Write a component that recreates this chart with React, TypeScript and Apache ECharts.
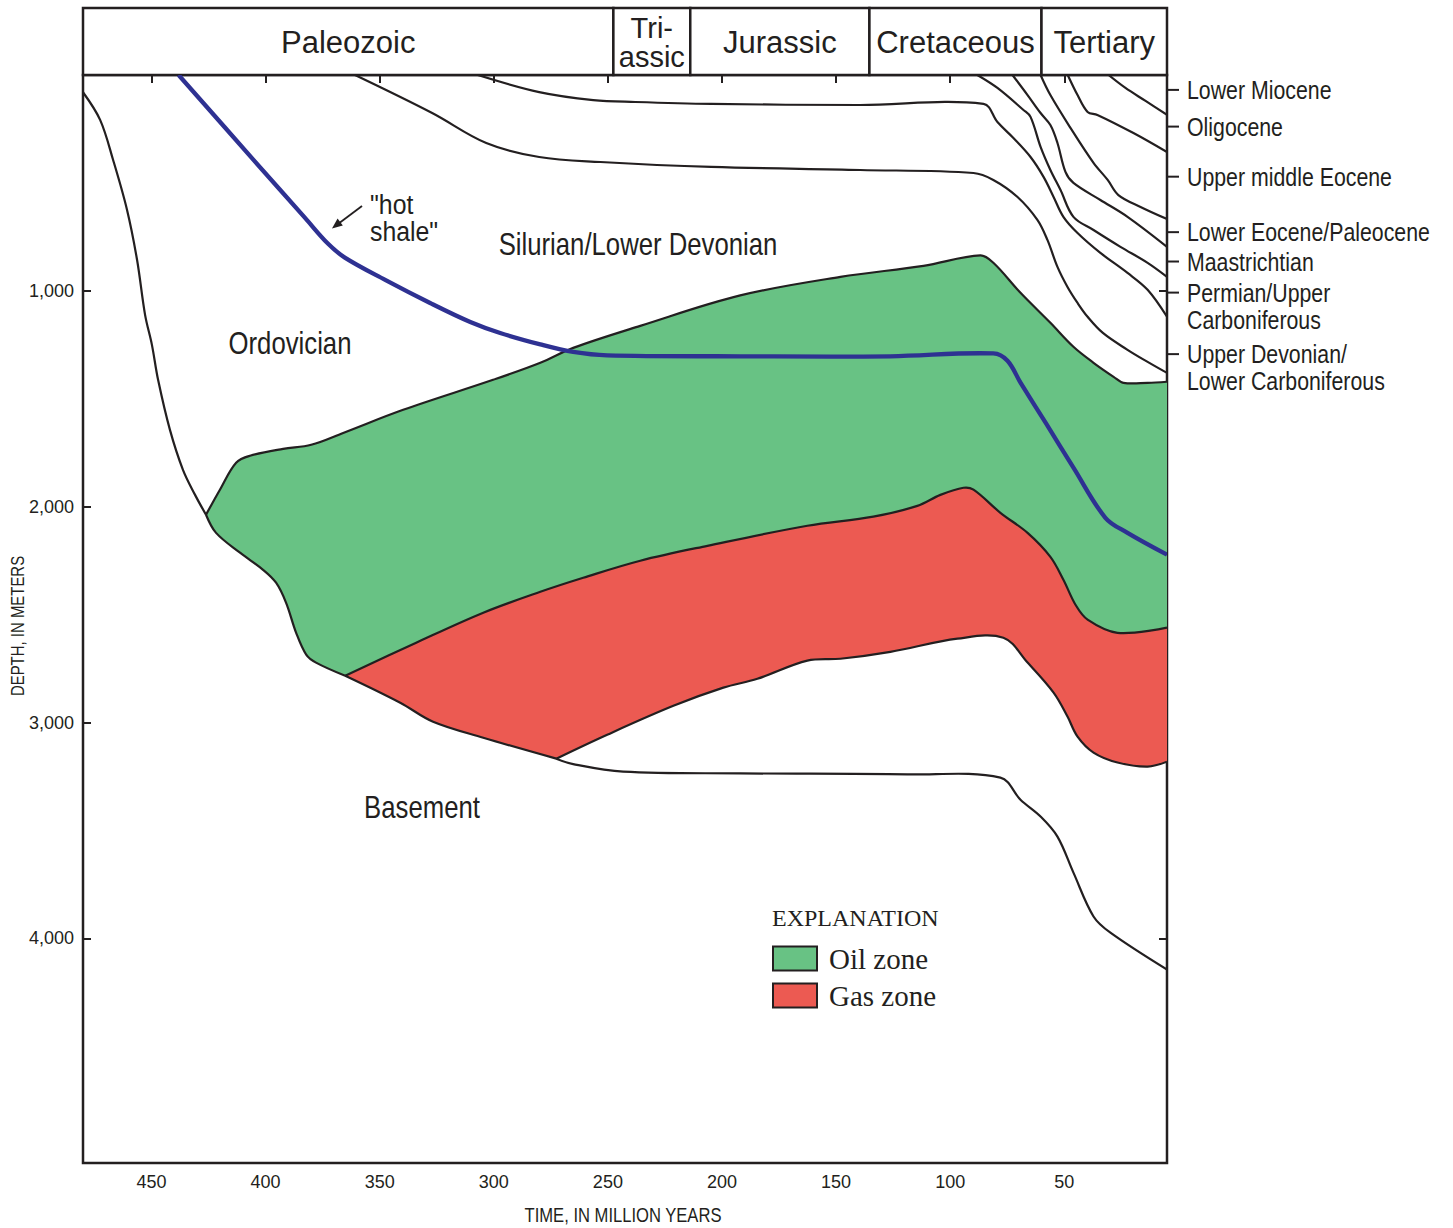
import React, { useEffect, useRef } from 'react';
import * as echarts from 'echarts';

// ---------- axis ranges & ticks ----------
const TIME_MAX = 480;
const TIME_MIN = 5;
const DEPTH_MIN = 0;
const DEPTH_MAX = 5040;
const timeTicks = [450, 400, 350, 300, 250, 200, 150, 100, 50];
const depthTicks = [1000, 2000, 3000, 4000];

// ---------- geologic periods (top band) ----------
const periodNames = ['Paleozoic', 'Tri-\nassic', 'Jurassic', 'Cretaceous', 'Tertiary'];
const periodStart = [480, 247.6, 213.9, 135.4, 60];
const periodEnd = [247.6, 213.9, 135.4, 60, 5];

// ---------- right-hand unit labels ----------
const horizonNames = [
  'Lower Miocene',
  'Oligocene',
  'Upper middle Eocene',
  'Lower Eocene/Paleocene',
  'Maastrichtian',
  'Permian/Upper\nCarboniferous',
  'Upper Devonian/\nLower Carboniferous',
];
const horizonDepths = [69, 239, 471, 728, 864, 1008, 1293];

// ---------- curves: [time Ma, depth m] ----------
const leftLimb = [
  [480, 80], [472.5, 208], [466.8, 394], [460.7, 625], [456.3, 857], [452.8, 1111],
  [449.8, 1250], [447.1, 1412], [441.9, 1644], [436.2, 1829], [430.9, 1945], [426.1, 2037],
];
const oilBase = [
  [426.1, 2037], [421.7, 2121], [411.2, 2213], [401.1, 2292], [395.4, 2352], [391, 2445],
  [386.6, 2584], [382.2, 2685], [377.9, 2722], [365.1, 2783],
];
const gasBaseLeft = [
  [365.1, 2783], [341, 2908], [326.6, 2996], [304.6, 3070], [272.6, 3167],
];
const basement = [
  [272.6, 3167], [265.2, 3192], [243.3, 3227], [192, 3235], [118.8, 3240], [78, 3255],
  [69.2, 3357], [60.4, 3435], [53, 3528], [46, 3695], [37.2, 3898], [29.8, 3973], [5, 4144],
];
const oilTop = [
  [426.1, 2037], [420, 1921], [412.9, 1796], [406.8, 1764], [392.3, 1732], [380, 1713],
  [366, 1658], [339.7, 1551], [300.3, 1412], [279.6, 1333], [265.2, 1264], [235.8, 1162],
  [192, 1021], [148.1, 935], [111.7, 884], [86.8, 836], [81.1, 870], [69.2, 1009],
  [56.1, 1148], [46, 1259], [37.2, 1333], [28.4, 1398], [24.1, 1426], [13.5, 1426], [5, 1421],
];
const oilGasContact = [
  [365.1, 2783], [334, 2630], [304.6, 2491], [279.6, 2394], [260.8, 2329], [235.8, 2250],
  [206.4, 2181], [162.6, 2088], [133.7, 2046], [114.4, 1996], [104.3, 1945], [94.2, 1912],
  [89.8, 1921], [78, 2028], [66.1, 2121], [56.1, 2232], [50.4, 2338], [45.1, 2454],
  [39.8, 2523], [26.7, 2584], [5, 2560],
];
const gasBase = [
  [272.6, 3167], [250.3, 3056], [221.3, 2922], [199.4, 2838], [184.5, 2797], [162.6, 2713],
  [148.1, 2704], [126.2, 2672], [96.8, 2611], [76.7, 2607], [66.1, 2722], [54.7, 2861],
  [48.6, 2972], [44.2, 3065], [37.2, 3139], [26.7, 3185], [13.5, 3204], [5, 3181],
];
const hotShale = [
  [438.1, 0], [405.2, 394], [382.7, 662], [372.6, 782], [365.1, 847], [347.6, 949],
  [327.9, 1056], [310.3, 1144], [297.2, 1195], [279.6, 1248], [265.2, 1283], [250.3, 1299],
  [192, 1303], [126.2, 1303], [81.1, 1290], [74.9, 1324], [69.2, 1425], [58, 1614],
  [46, 1819], [32, 2051], [22.3, 2121], [5, 2222],
];
const baseLowerMiocene = [[30.6, 0], [23.2, 60], [14.4, 120], [5, 185]];
const baseOligocene = [[48.5, 0], [44.2, 93], [39.8, 171], [35.5, 185], [19.7, 269], [5, 357]];
const baseUpperMiddleEocene = [
  [60.4, 0], [56.1, 93], [47.3, 245], [37.2, 407], [31, 486], [26.3, 556], [16.6, 611], [5, 667],
];
const baseLowerEocene = [
  [72.7, 0], [66.1, 93], [60.4, 176], [56.1, 232], [53, 315], [49.5, 449], [46, 500],
  [34.2, 579], [22.3, 657], [5, 796],
];
const baseMaastrichtian = [
  [88.1, 0], [79.3, 60], [67.9, 162], [64.8, 194], [60.4, 333], [56.1, 440], [51.7, 532],
  [46, 657], [37.2, 718], [25.4, 796], [13.5, 870], [5, 935],
];
const basePermian = [
  [307, 0], [280.1, 79], [256.4, 116], [238, 125], [204.7, 134], [139.4, 139], [85.4, 134],
  [79.3, 218], [72.3, 292], [64.8, 380], [59.1, 472], [54.7, 565], [50.4, 657], [44.2, 732],
  [34.2, 824], [22.3, 917], [13.5, 995], [5, 1120],
];
const baseUpperDevonian = [
  [360.8, 0], [327, 176], [303.3, 315], [280.1, 380], [253.3, 403], [204.7, 426],
  [139.4, 440], [89.8, 454], [81.1, 486], [70.5, 565], [61.8, 671], [57.4, 764], [53, 889],
  [48.6, 982], [44.2, 1056], [39.8, 1120], [33.1, 1195], [22.3, 1273], [13.5, 1329], [5, 1380],
];

// ---------- styling ----------
const INK = '#231f20';
const GREEN = '#68c284';
const RED = '#ec5a52';
const BLUE = '#2e3192';
const SANS = "'Liberation Sans', Arial, sans-serif";
const SERIF = "'Liberation Serif', 'Times New Roman', serif";
const SMOOTH = 0.35;
const NARROW_SCALE = 0.83;

const rev = (a: number[][]) => a.slice().reverse();
const last = (a: number[][]) => a[a.length - 1];
// polygons: segment ends are repeated so corners stay sharp under smoothing
const oilPolygon = [
  ...oilTop, last(oilTop), last(oilGasContact), ...rev(oilGasContact), ...rev(oilBase),
];
const gasPolygon = [
  ...oilGasContact, last(oilGasContact), last(gasBase), ...rev(gasBase), ...rev(gasBaseLeft),
];

function zoneSeries(name: string, pts: number[][], color: string) {
  return {
    type: 'custom',
    name,
    coordinateSystem: 'cartesian2d',
    xAxisIndex: 0,
    yAxisIndex: 0,
    z: 1,
    silent: true,
    clip: true,
    itemStyle: { color, borderColor: INK, borderWidth: 2 },
    data: pts,
    renderItem: (params: any, api: any) => {
      if (params.dataIndex !== 0) return null;
      return {
        type: 'polygon',
        shape: { points: pts.map((p) => api.coord(p)), smooth: SMOOTH },
        style: { fill: color, stroke: 'none' },
      };
    },
  };
}

function curveSeries(name: string, pts: number[][], color = INK, width = 2.2, z = 3) {
  return {
    type: 'custom',
    name,
    coordinateSystem: 'cartesian2d',
    xAxisIndex: 0,
    yAxisIndex: 0,
    z,
    silent: true,
    clip: true,
    data: pts,
    renderItem: (params: any, api: any) => {
      if (params.dataIndex !== 0) return null;
      return {
        type: 'polyline',
        shape: { points: pts.map((p) => api.coord(p)), smooth: SMOOTH },
        style: { fill: 'none', stroke: color, lineWidth: width, lineJoin: 'round', lineCap: 'butt' },
      };
    },
  };
}

function narrowText(text: string, x: number, y: number, size: number, align = 'center', extra: any = {}) {
  return {
    type: 'text',
    x,
    y,
    scaleX: NARROW_SCALE,
    ...extra,
    style: { text, fontFamily: SANS, fontSize: size, fill: INK, align, verticalAlign: 'middle', ...(extra.style || {}) },
  };
}

function buildOption() {
  return {
    animation: false,
    backgroundColor: '#ffffff',
    grid: [
      {
        left: 83, right: 286, top: 75, bottom: 65, show: true, borderColor: INK, borderWidth: 2.5,
        backgroundColor: 'transparent', containLabel: false, outerBoundsMode: 'none',
      },
      { left: 83, right: 286, top: 8, height: 67, show: false, containLabel: false, outerBoundsMode: 'none' },
    ],
    xAxis: [
      {
        type: 'value', gridIndex: 0, position: 'bottom', min: TIME_MIN, max: TIME_MAX, inverse: true,
        splitLine: { show: false },
        axisLine: { show: false },
        axisTick: { show: true, inside: true, length: 8, lineStyle: { color: INK, width: 2 }, customValues: timeTicks },
        axisLabel: { show: true, margin: 10, fontFamily: SANS, fontSize: 18, color: INK, customValues: timeTicks },
      },
      {
        type: 'value', gridIndex: 0, position: 'top', min: TIME_MIN, max: TIME_MAX, inverse: true,
        splitLine: { show: false },
        axisLine: { show: false },
        axisTick: { show: true, inside: true, length: 8, lineStyle: { color: INK, width: 2 }, customValues: timeTicks },
        axisLabel: { show: false, customValues: timeTicks },
      },
      { type: 'value', gridIndex: 1, min: TIME_MIN, max: TIME_MAX, inverse: true, show: false },
    ],
    yAxis: [
      {
        type: 'value', gridIndex: 0, position: 'left', min: DEPTH_MIN, max: DEPTH_MAX, inverse: true,
        splitLine: { show: false },
        axisLine: { show: false },
        axisTick: { show: true, inside: true, length: 8, lineStyle: { color: INK, width: 2 }, customValues: depthTicks },
        axisLabel: {
          show: true, margin: 9, fontFamily: SANS, fontSize: 18, color: INK, customValues: depthTicks,
          formatter: (v: number) => v.toLocaleString('en-US'),
        },
      },
      {
        type: 'value', gridIndex: 0, position: 'right', min: DEPTH_MIN, max: DEPTH_MAX, inverse: true,
        splitLine: { show: false },
        axisLine: { show: false },
        axisTick: { show: true, inside: true, length: 8, lineStyle: { color: INK, width: 2 }, customValues: depthTicks },
        axisLabel: { show: false, customValues: depthTicks },
      },
      { type: 'value', gridIndex: 1, min: 0, max: 1, show: false },
    ],
    legend: {
      show: true,
      orient: 'vertical',
      left: 772,
      top: 944,
      padding: 0,
      itemWidth: 44,
      itemHeight: 24,
      itemGap: 8,
      selectedMode: false,
      icon: 'rect',
      itemStyle: { borderColor: INK, borderWidth: 2 },
      textStyle: { fontFamily: SERIF, fontSize: 29, color: INK, padding: [0, 0, 0, 7] },
      data: [
        { name: 'Oil zone', itemStyle: { color: GREEN, borderColor: INK, borderWidth: 2 } },
        { name: 'Gas zone', itemStyle: { color: RED, borderColor: INK, borderWidth: 2 } },
      ],
    },
    graphic: [
      { type: 'text', left: 772, top: 906, style: { text: 'EXPLANATION', fontFamily: SERIF, fontSize: 24, fill: INK } },
      narrowText('TIME, IN MILLION YEARS', 623, 1215, 20),
      narrowText('DEPTH, IN METERS', 18, 626, 18, 'center', { rotation: Math.PI / 2 }),
      narrowText('Silurian/Lower Devonian', 638, 244, 31),
      narrowText('Ordovician', 290, 343, 31),
      narrowText('Basement', 422, 807, 31),
      {
        type: 'text', x: 370, y: 191, scaleX: 0.92,
        style: { text: '"hot\nshale"', fontFamily: SANS, fontSize: 27, lineHeight: 27, fill: INK, align: 'left', verticalAlign: 'top' },
      },
      { type: 'line', shape: { x1: 362, y1: 206, x2: 338, y2: 224 }, style: { stroke: INK, lineWidth: 1.8 } },
      { type: 'polygon', shape: { points: [[332, 228.5], [342.8, 225.5], [337.6, 218.6]] }, style: { fill: INK } },
    ],
    series: [
      zoneSeries('Oil zone', oilPolygon, GREEN),
      zoneSeries('Gas zone', gasPolygon, RED),
      curveSeries('leftLimb', leftLimb),
      curveSeries('oilBase', oilBase),
      curveSeries('gasBaseLeft', gasBaseLeft),
      curveSeries('basement', basement),
      curveSeries('oilTop', oilTop),
      curveSeries('oilGas', oilGasContact),
      curveSeries('gasBase', gasBase),
      curveSeries('h1', baseLowerMiocene),
      curveSeries('h2', baseOligocene),
      curveSeries('h3', baseUpperMiddleEocene),
      curveSeries('h4', baseLowerEocene),
      curveSeries('h5', baseMaastrichtian),
      curveSeries('h6', basePermian),
      curveSeries('h7', baseUpperDevonian),
      curveSeries('hot shale', hotShale, BLUE, 4.3, 4),
      {
        type: 'custom',
        name: 'periods',
        coordinateSystem: 'cartesian2d',
        xAxisIndex: 2,
        yAxisIndex: 2,
        silent: true,
        data: periodNames.map((_, i) => [periodStart[i], periodEnd[i]]),
        encode: { x: [0, 1] },
        renderItem: (params: any, api: any) => {
          const i = params.dataIndex;
          const p0 = api.coord([periodStart[i], 1]);
          const p1 = api.coord([periodEnd[i], 0]);
          const twoLine = periodNames[i].indexOf('\n') >= 0;
          return {
            type: 'group',
            children: [
              {
                type: 'rect',
                shape: { x: p0[0], y: p0[1], width: p1[0] - p0[0], height: p1[1] - p0[1] },
                style: { fill: '#ffffff', stroke: INK, lineWidth: 2.5 },
              },
              {
                type: 'text',
                x: (p0[0] + p1[0]) / 2,
                y: (p0[1] + p1[1]) / 2 + 1,
                style: {
                  text: periodNames[i], fontFamily: SANS, fontSize: twoLine ? 29 : 31, lineHeight: 29,
                  fill: INK, align: 'center', verticalAlign: 'middle',
                },
              },
            ],
          };
        },
      },
      {
        type: 'custom',
        name: 'units',
        coordinateSystem: 'cartesian2d',
        xAxisIndex: 0,
        yAxisIndex: 0,
        silent: true,
        clip: false,
        data: horizonDepths.map((d) => [TIME_MIN, d]),
        renderItem: (params: any, api: any) => {
          const p = api.coord([api.value(0), api.value(1)]);
          return {
            type: 'group',
            children: [
              { type: 'line', shape: { x1: p[0], y1: p[1], x2: p[0] + 12, y2: p[1] }, style: { stroke: INK, lineWidth: 2 } },
              {
                type: 'text', x: p[0] + 20, y: p[1] - 13.5, scaleX: 0.82,
                style: {
                  text: horizonNames[params.dataIndex], fontFamily: SANS, fontSize: 26, lineHeight: 27,
                  fill: INK, align: 'left', verticalAlign: 'top',
                },
              },
            ],
          };
        },
      },
    ],
  };
}

export default function App() {
  const ref = useRef<HTMLDivElement>(null);
  useEffect(() => {
    if (!ref.current) return;
    const chart = echarts.init(ref.current, null, { renderer: 'svg' });
    chart.setOption(buildOption() as any);
    return () => chart.dispose();
  }, []);
  return (
    <div
      ref={ref}
      style={{ position: 'absolute', left: 0, top: 0, width: 1453, height: 1228, background: '#ffffff' }}
    />
  );
}
